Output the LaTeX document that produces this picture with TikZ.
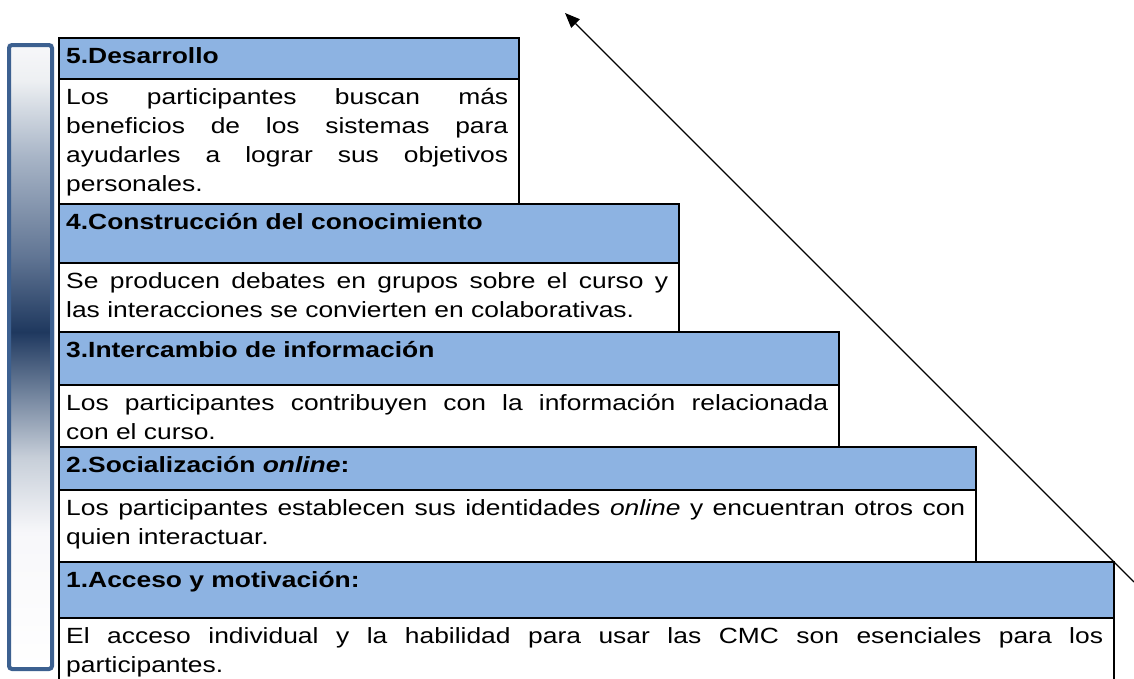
\documentclass[tikz,border=0pt]{standalone}
\usepackage{fontspec}
\setmainfont{Liberation Sans}[FakeStretch=1.2]
\usetikzlibrary{arrows.meta}
\definecolor{hblue}{RGB}{141,179,226}
\definecolor{barframe}{RGB}{60,96,144}
\pgfdeclareverticalshading{barshade}{100bp}{rgb(0bp)=(1,1,1); rgb(25bp)=(1,1,1); rgb(36bp)=(0.97,0.97,0.98); rgb(42bp)=(0.78,0.81,0.85); rgb(47bp)=(0.45,0.52,0.62); rgb(52bp)=(0.12,0.22,0.37); rgb(58bp)=(0.38,0.46,0.58); rgb(66bp)=(0.66,0.71,0.78); rgb(72bp)=(0.93,0.94,0.95); rgb(75bp)=(0.97,0.97,0.98); rgb(100bp)=(0.97,0.97,0.98)}
\hyphenpenalty=10000\relax
\tolerance=9999\relax
\tikzset{head/.style = {draw, line width = 2pt, fill = hblue},
  body/.style = {draw, line width = 2pt, fill = white},
  txt/.style = {anchor = north west, inner sep = 0, align = justify,
    font = \fontsize{22}{29}\selectfont}}

\begin{document}
\begin{tikzpicture}[x = 1pt, y = -1pt]
  \useasboundingbox (0, 0) rectangle (1134, 678);

  % vertical bar on the left
  \path [shading = barshade] (7, 43) rectangle (54, 671);
  \draw [barframe, line width = 4pt, rounded corners = 3pt] (9, 45) rectangle (52, 669);

  % the five steps, wider towards the bottom
  \foreach \r/\t/\m/\b in {519/38/79/204, 679/204/263/332, 839/332/385/447, 976/447/490/562, 1114/562/618/690} {
    \draw [head] (59, \t) rectangle (\r, \m);
    \draw [body] (59, \m) rectangle (\r, \b);
  }

  \node [txt, text width = 442pt] (h5) at (66, 42.7) {\strut\textbf{5.Desarrollo}};
  \node [txt, text width = 442pt] (b5) at (66, 83.7) {\strut Los participantes buscan más\linebreak beneficios de los sistemas para\linebreak ayudarles a lograr sus objetivos\linebreak personales.};

  \node [txt, text width = 602pt] (h4) at (66, 208.7) {\strut\textbf{4.Construcción del conocimiento}};
  \node [txt, text width = 602pt] (b4) at (66, 267.7) {\strut Se producen debates en grupos sobre el curso y\linebreak las interacciones se convierten en colaborativas.};

  \node [txt, text width = 762pt] (h3) at (66, 336.7) {\strut\textbf{3.Intercambio de información}};
  \node [txt, text width = 762pt] (b3) at (66, 389.7) {\strut Los participantes contribuyen con la información relacionada\linebreak con el curso.};

  \node [txt, text width = 899pt] (h2) at (66, 451.7) {\strut\textbf{2.Socialización \textit{online}:}};
  \node [txt, text width = 899pt] (b2) at (66, 494.7) {\strut Los participantes establecen sus identidades \textit{online} y encuentran otros con\linebreak quien interactuar.};

  \node [txt, text width = 1037pt] (h1) at (66, 566.7) {\strut\textbf{1.Acceso y motivación:}};
  \node [txt, text width = 1037pt] (b1) at (66, 622.7) {\strut El acceso individual y la habilidad para usar las CMC son esenciales para los\linebreak participantes.};

  % long arrow across the steps
  \coordinate (tail) at (1134, 582);
  \coordinate (tip) at (565, 13);
  \draw [line width = 1.3pt, -{Triangle[length = 15pt, width = 12pt]}] (tail) -- (tip);
\end{tikzpicture}
\end{document}
